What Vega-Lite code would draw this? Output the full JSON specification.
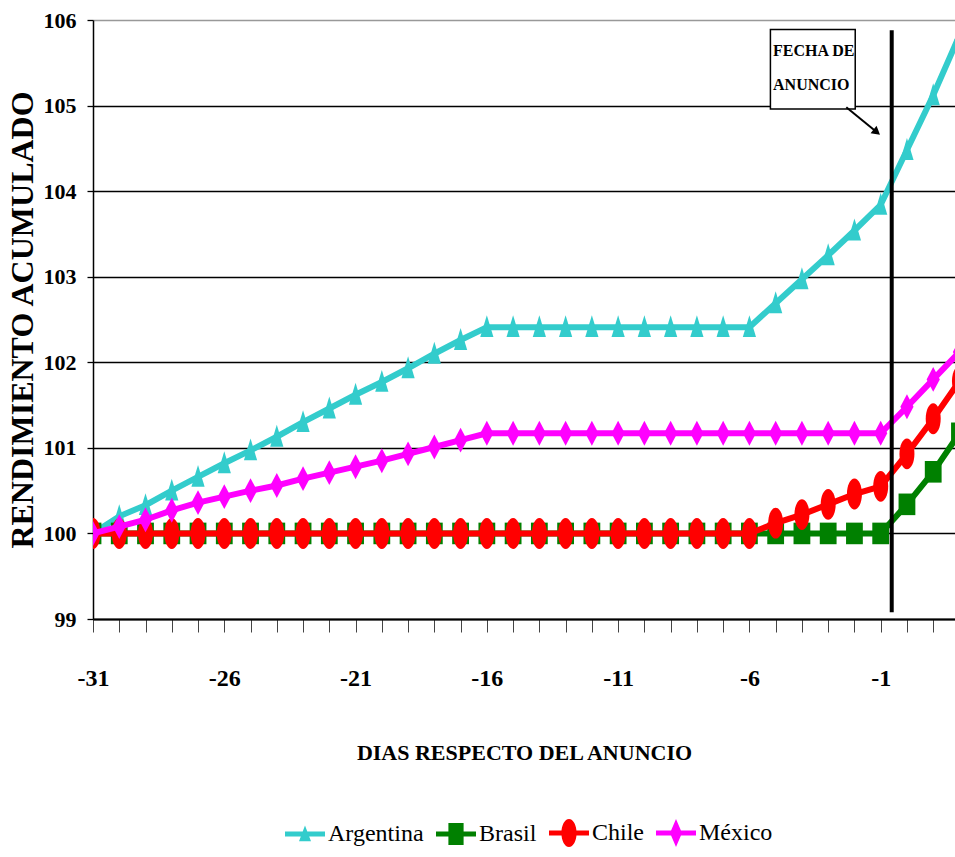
{
  "$schema": "https://vega.github.io/schema/vega-lite/v6.json",
  "width": 862,
  "height": 599,
  "autosize": {"type": "none"},
  "padding": {"left": 93, "top": 20, "right": 0, "bottom": 238},
  "background": "white",
  "config": {
    "view": {"stroke": null},
    "font": "Liberation Serif",
    "text": {"font": "Liberation Serif"},
    "legend": {"labelFont": "Liberation Serif", "labelFontSize": 24, "labelColor": "#000000"},
    "axis": {"labelFont": "Liberation Serif", "titleFont": "Liberation Serif"}
  },
  "datasets": {
    "series": [
      {"pais": "Argentina", "dia": -31, "valor": 100.00}, {"pais": "Argentina", "dia": -30, "valor": 100.20}, {"pais": "Argentina", "dia": -29, "valor": 100.33}, {"pais": "Argentina", "dia": -28, "valor": 100.50}, {"pais": "Argentina", "dia": -27, "valor": 100.66}, {"pais": "Argentina", "dia": -26, "valor": 100.82}, {"pais": "Argentina", "dia": -25, "valor": 100.97}, {"pais": "Argentina", "dia": -24, "valor": 101.13}, {"pais": "Argentina", "dia": -23, "valor": 101.30}, {"pais": "Argentina", "dia": -22, "valor": 101.46}, {"pais": "Argentina", "dia": -21, "valor": 101.62}, {"pais": "Argentina", "dia": -20, "valor": 101.77}, {"pais": "Argentina", "dia": -19, "valor": 101.93}, {"pais": "Argentina", "dia": -18, "valor": 102.10}, {"pais": "Argentina", "dia": -17, "valor": 102.26}, {"pais": "Argentina", "dia": -16, "valor": 102.41}, {"pais": "Argentina", "dia": -15, "valor": 102.41}, {"pais": "Argentina", "dia": -14, "valor": 102.41}, {"pais": "Argentina", "dia": -13, "valor": 102.41}, {"pais": "Argentina", "dia": -12, "valor": 102.41}, {"pais": "Argentina", "dia": -11, "valor": 102.41}, {"pais": "Argentina", "dia": -10, "valor": 102.41}, {"pais": "Argentina", "dia": -9, "valor": 102.41}, {"pais": "Argentina", "dia": -8, "valor": 102.41}, {"pais": "Argentina", "dia": -7, "valor": 102.41}, {"pais": "Argentina", "dia": -6, "valor": 102.41}, {"pais": "Argentina", "dia": -5, "valor": 102.69}, {"pais": "Argentina", "dia": -4, "valor": 102.97}, {"pais": "Argentina", "dia": -3, "valor": 103.25}, {"pais": "Argentina", "dia": -2, "valor": 103.54}, {"pais": "Argentina", "dia": -1, "valor": 103.84}, {"pais": "Argentina", "dia": 0, "valor": 104.48}, {"pais": "Argentina", "dia": 1, "valor": 105.12}, {"pais": "Argentina", "dia": 2, "valor": 105.82},
      {"pais": "Brasil", "dia": -31, "valor": 100}, {"pais": "Brasil", "dia": -30, "valor": 100}, {"pais": "Brasil", "dia": -29, "valor": 100}, {"pais": "Brasil", "dia": -28, "valor": 100}, {"pais": "Brasil", "dia": -27, "valor": 100}, {"pais": "Brasil", "dia": -26, "valor": 100}, {"pais": "Brasil", "dia": -25, "valor": 100}, {"pais": "Brasil", "dia": -24, "valor": 100}, {"pais": "Brasil", "dia": -23, "valor": 100}, {"pais": "Brasil", "dia": -22, "valor": 100}, {"pais": "Brasil", "dia": -21, "valor": 100}, {"pais": "Brasil", "dia": -20, "valor": 100}, {"pais": "Brasil", "dia": -19, "valor": 100}, {"pais": "Brasil", "dia": -18, "valor": 100}, {"pais": "Brasil", "dia": -17, "valor": 100}, {"pais": "Brasil", "dia": -16, "valor": 100}, {"pais": "Brasil", "dia": -15, "valor": 100}, {"pais": "Brasil", "dia": -14, "valor": 100}, {"pais": "Brasil", "dia": -13, "valor": 100}, {"pais": "Brasil", "dia": -12, "valor": 100}, {"pais": "Brasil", "dia": -11, "valor": 100}, {"pais": "Brasil", "dia": -10, "valor": 100}, {"pais": "Brasil", "dia": -9, "valor": 100}, {"pais": "Brasil", "dia": -8, "valor": 100}, {"pais": "Brasil", "dia": -7, "valor": 100}, {"pais": "Brasil", "dia": -6, "valor": 100}, {"pais": "Brasil", "dia": -5, "valor": 100}, {"pais": "Brasil", "dia": -4, "valor": 100}, {"pais": "Brasil", "dia": -3, "valor": 100}, {"pais": "Brasil", "dia": -2, "valor": 100}, {"pais": "Brasil", "dia": -1, "valor": 100}, {"pais": "Brasil", "dia": 0, "valor": 100.34}, {"pais": "Brasil", "dia": 1, "valor": 100.72}, {"pais": "Brasil", "dia": 2, "valor": 101.17},
      {"pais": "Chile", "dia": -31, "valor": 100}, {"pais": "Chile", "dia": -30, "valor": 100}, {"pais": "Chile", "dia": -29, "valor": 100}, {"pais": "Chile", "dia": -28, "valor": 100}, {"pais": "Chile", "dia": -27, "valor": 100}, {"pais": "Chile", "dia": -26, "valor": 100}, {"pais": "Chile", "dia": -25, "valor": 100}, {"pais": "Chile", "dia": -24, "valor": 100}, {"pais": "Chile", "dia": -23, "valor": 100}, {"pais": "Chile", "dia": -22, "valor": 100}, {"pais": "Chile", "dia": -21, "valor": 100}, {"pais": "Chile", "dia": -20, "valor": 100}, {"pais": "Chile", "dia": -19, "valor": 100}, {"pais": "Chile", "dia": -18, "valor": 100}, {"pais": "Chile", "dia": -17, "valor": 100}, {"pais": "Chile", "dia": -16, "valor": 100}, {"pais": "Chile", "dia": -15, "valor": 100}, {"pais": "Chile", "dia": -14, "valor": 100}, {"pais": "Chile", "dia": -13, "valor": 100}, {"pais": "Chile", "dia": -12, "valor": 100}, {"pais": "Chile", "dia": -11, "valor": 100}, {"pais": "Chile", "dia": -10, "valor": 100}, {"pais": "Chile", "dia": -9, "valor": 100}, {"pais": "Chile", "dia": -8, "valor": 100}, {"pais": "Chile", "dia": -7, "valor": 100}, {"pais": "Chile", "dia": -6, "valor": 100}, {"pais": "Chile", "dia": -5, "valor": 100.12}, {"pais": "Chile", "dia": -4, "valor": 100.22}, {"pais": "Chile", "dia": -3, "valor": 100.34}, {"pais": "Chile", "dia": -2, "valor": 100.46}, {"pais": "Chile", "dia": -1, "valor": 100.55}, {"pais": "Chile", "dia": 0, "valor": 100.93}, {"pais": "Chile", "dia": 1, "valor": 101.34}, {"pais": "Chile", "dia": 2, "valor": 101.78},
      {"pais": "México", "dia": -31, "valor": 100.00}, {"pais": "México", "dia": -30, "valor": 100.08}, {"pais": "México", "dia": -29, "valor": 100.16}, {"pais": "México", "dia": -28, "valor": 100.27}, {"pais": "México", "dia": -27, "valor": 100.36}, {"pais": "México", "dia": -26, "valor": 100.43}, {"pais": "México", "dia": -25, "valor": 100.50}, {"pais": "México", "dia": -24, "valor": 100.56}, {"pais": "México", "dia": -23, "valor": 100.64}, {"pais": "México", "dia": -22, "valor": 100.71}, {"pais": "México", "dia": -21, "valor": 100.78}, {"pais": "México", "dia": -20, "valor": 100.85}, {"pais": "México", "dia": -19, "valor": 100.93}, {"pais": "México", "dia": -18, "valor": 101.01}, {"pais": "México", "dia": -17, "valor": 101.09}, {"pais": "México", "dia": -16, "valor": 101.17}, {"pais": "México", "dia": -15, "valor": 101.17}, {"pais": "México", "dia": -14, "valor": 101.17}, {"pais": "México", "dia": -13, "valor": 101.17}, {"pais": "México", "dia": -12, "valor": 101.17}, {"pais": "México", "dia": -11, "valor": 101.17}, {"pais": "México", "dia": -10, "valor": 101.17}, {"pais": "México", "dia": -9, "valor": 101.17}, {"pais": "México", "dia": -8, "valor": 101.17}, {"pais": "México", "dia": -7, "valor": 101.17}, {"pais": "México", "dia": -6, "valor": 101.17}, {"pais": "México", "dia": -5, "valor": 101.17}, {"pais": "México", "dia": -4, "valor": 101.17}, {"pais": "México", "dia": -3, "valor": 101.17}, {"pais": "México", "dia": -2, "valor": 101.17}, {"pais": "México", "dia": -1, "valor": 101.17}, {"pais": "México", "dia": 0, "valor": 101.48}, {"pais": "México", "dia": 1, "valor": 101.80}, {"pais": "México", "dia": 2, "valor": 102.12}
    ],
    "linea_anuncio": [{"dia": -0.58, "valor": 99.08, "valor2": 105.88}],
    "recuadro": [{"dia": -5.2, "dia2": -1.97, "valor": 104.96, "valor2": 105.89}],
    "rotulo": [{"dia": -5.1, "valor": 105.64, "texto": "FECHA DE"}, {"dia": -5.1, "valor": 105.24, "texto": "ANUNCIO"}],
    "flecha": [{"dia": -2.31, "valor": 104.98}, {"dia": -1.19, "valor": 104.70}],
    "punta": [{"dia": -1.19, "valor": 104.70}]
  },
  "data": {"name": "series"},
  "encoding": {
    "x": {
      "field": "dia", "type": "quantitative",
      "scale": {"domain": [-31, 1.83], "nice": false, "zero": false},
      "axis": {
        "values": [-31,-30,-29,-28,-27,-26,-25,-24,-23,-22,-21,-20,-19,-18,-17,-16,-15,-14,-13,-12,-11,-10,-9,-8,-7,-6,-5,-4,-3,-2,-1,0,1],
        "labelExpr": "(datum.value + 31) % 5 === 0 ? '' + datum.value : ''",
        "grid": false,
        "domainColor": "#000000", "domainWidth": 2,
        "tickColor": "#444444", "tickWidth": 1, "tickSize": 13,
        "labelFont": "Liberation Serif", "labelFontWeight": "bold", "labelFontSize": 24, "labelColor": "#000000",
        "labelPadding": 46, "labelBaseline": "middle", "labelFlush": false, "labelOverlap": false,
        "title": "DIAS RESPECTO DEL ANUNCIO",
        "titleFont": "Liberation Serif", "titleFontWeight": "bold", "titleFontSize": 22, "titleColor": "#000000",
        "titleY": 133, "titleBaseline": "middle"
      }
    },
    "y": {
      "field": "valor", "type": "quantitative",
      "scale": {"domain": [99, 106], "nice": false, "zero": false},
      "axis": {
        "values": [99, 100, 101, 102, 103, 104, 105, 106],
        "grid": true,
        "gridColor": {"condition": {"test": "datum.value === 106", "value": "#999999"}, "value": "#000000"},
        "gridWidth": 1.3,
        "domainColor": "#000000", "domainWidth": 1.5,
        "tickColor": "#000000", "tickWidth": 1.3, "tickSize": 6,
        "labelFont": "Liberation Serif", "labelFontWeight": "bold", "labelFontSize": 22, "labelColor": "#000000",
        "labelPadding": 11,
        "title": "RENDIMIENTO ACUMULADO",
        "titleFont": "Liberation Serif", "titleFontWeight": "bold", "titleFontSize": 32, "titleColor": "#000000",
        "titleAngle": -90, "titleX": -71, "titleY": 299.5, "titleAlign": "center", "titleBaseline": "middle"
      }
    }
  },
  "layer": [
    {
      "transform": [{"filter": "datum.pais === 'Argentina'"}],
      "layer": [
        {"mark": {"type": "line", "color": "#33CCCC", "strokeWidth": 6, "clip": true}, "encoding": {}},
        {"mark": {"type": "point", "filled": true, "opacity": 1, "color": "#33CCCC", "size": 900, "clip": true, "shape": "M0,-0.8L0.44,0.66L-0.44,0.66Z"}}
      ]
    },
    {
      "transform": [{"filter": "datum.pais === 'Brasil'"}],
      "layer": [
        {"mark": {"type": "line", "color": "#008000", "strokeWidth": 6, "clip": true}, "encoding": {}},
        {"mark": {"type": "point", "filled": true, "opacity": 1, "color": "#008000", "size": 900, "clip": true, "shape": "M-0.56,-0.72H0.56V0.72H-0.56Z"}}
      ]
    },
    {
      "transform": [{"filter": "datum.pais === 'Chile'"}],
      "layer": [
        {"mark": {"type": "line", "color": "#FF0000", "strokeWidth": 6, "clip": true}, "encoding": {}},
        {"mark": {"type": "point", "filled": true, "opacity": 1, "color": "#FF0000", "size": 900, "clip": true, "shape": "M0,-1.03C0.276,-1.03,0.5,-0.569,0.5,0C0.5,0.569,0.276,1.03,0,1.03C-0.276,1.03,-0.5,0.569,-0.5,0C-0.5,-0.569,-0.276,-1.03,0,-1.03Z"}}
      ]
    },
    {
      "transform": [{"filter": "datum.pais === 'México'"}],
      "layer": [
        {"mark": {"type": "line", "color": "#FF00FF", "strokeWidth": 6, "clip": true}, "encoding": {}},
        {"mark": {"type": "point", "filled": true, "opacity": 1, "color": "#FF00FF", "size": 900, "clip": true, "shape": "M0,-0.83L0.44,0L0,0.83L-0.44,0Z"}}
      ]
    },
    {
      "data": {"name": "linea_anuncio"},
      "mark": {"type": "rule", "color": "#000000", "strokeWidth": 4},
      "encoding": {"y2": {"field": "valor2"}}
    },
    {
      "data": {"name": "recuadro"},
      "mark": {"type": "rect", "fill": "#FFFFFF", "stroke": "#000000", "strokeWidth": 1.5},
      "encoding": {"x2": {"field": "dia2"}, "y2": {"field": "valor2"}}
    },
    {
      "data": {"name": "rotulo"},
      "mark": {"type": "text", "align": "left", "baseline": "middle", "font": "Liberation Serif", "fontWeight": "bold", "fontSize": 16, "color": "#000000"},
      "encoding": {"text": {"field": "texto"}}
    },
    {
      "data": {"name": "flecha"},
      "mark": {"type": "line", "color": "#000000", "strokeWidth": 2},
      "encoding": {}
    },
    {
      "data": {"name": "punta"},
      "mark": {"type": "point", "shape": "triangle", "filled": true, "opacity": 1, "color": "#000000", "size": 90, "angle": 129}
    },
    {
      "mark": {"type": "point", "filled": true, "opacity": 0},
      "encoding": {
        "color": {
          "field": "pais", "type": "nominal",
          "scale": {"domain": ["Argentina", "Brasil", "Chile", "México"], "range": ["#33CCCC", "#008000", "#FF0000", "#FF00FF"]},
          "legend": {"orient": "none", "legendX": 192, "legendY": 793, "direction": "horizontal", "title": null, "symbolSize": 1600, "symbolStrokeWidth": 0, "symbolOpacity": 1, "labelFont": "Liberation Serif", "labelFontSize": 24, "labelColor": "#000000", "labelOffset": 3, "columnPadding": 12, "padding": 0}
        },
        "shape": {
          "field": "pais", "type": "nominal",
          "scale": {"domain": ["Argentina", "Brasil", "Chile", "México"], "range": [
            "M-1,-0.12H1V0.12H-1ZM0,-0.42L0.3,0.36L-0.3,0.36Z",
            "M-1,-0.12H1V0.12H-1ZM-0.38,-0.55H0.38V0.55H-0.38Z",
            "M-1,-0.12H1V0.12H-1ZM0,-0.7C0.21,-0.7,0.38,-0.387,0.38,0C0.38,0.387,0.21,0.7,0,0.7C-0.21,0.7,-0.38,0.387,-0.38,0C-0.38,-0.387,-0.21,-0.7,0,-0.7Z",
            "M-1,-0.12H1V0.12H-1ZM0,-0.7L0.3,0L0,0.7L-0.3,0Z"
          ]},
          "legend": {"orient": "none", "legendX": 192, "legendY": 793, "direction": "horizontal", "title": null, "symbolSize": 1600, "symbolStrokeWidth": 0, "symbolOpacity": 1, "labelFont": "Liberation Serif", "labelFontSize": 24, "labelColor": "#000000", "labelOffset": 3, "columnPadding": 12, "padding": 0}
        }
      }
    }
  ]
}
